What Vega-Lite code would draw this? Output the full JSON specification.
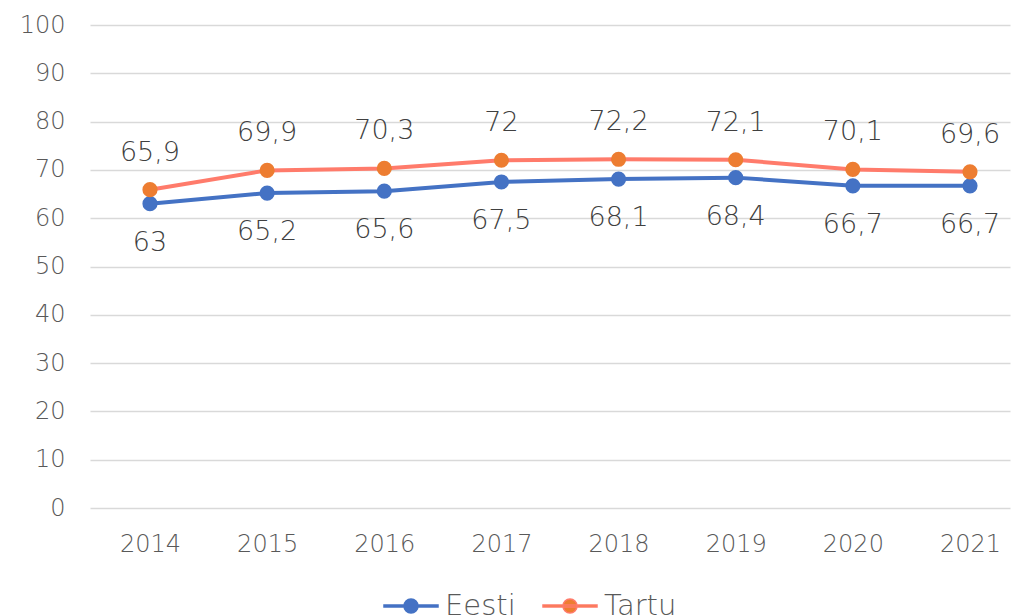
{
  "$schema": "https://vega.github.io/schema/vega-lite/v6.json",
  "width": 920,
  "height": 483,
  "autosize": {"type": "none"},
  "padding": {"left": 90, "top": 25, "right": 1, "bottom": 108},
  "background": "white",
  "config": {
    "view": {"stroke": null},
    "font": "DejaVu Sans",
    "locale": {"number": {"decimal": ",", "thousands": " ", "grouping": [3], "currency": ["", " €"]}}
  },
  "data": {
    "values": [
      {"year": "2014", "series": "Eesti", "value": 63},
      {"year": "2015", "series": "Eesti", "value": 65.2},
      {"year": "2016", "series": "Eesti", "value": 65.6},
      {"year": "2017", "series": "Eesti", "value": 67.5},
      {"year": "2018", "series": "Eesti", "value": 68.1},
      {"year": "2019", "series": "Eesti", "value": 68.4},
      {"year": "2020", "series": "Eesti", "value": 66.7},
      {"year": "2021", "series": "Eesti", "value": 66.7},
      {"year": "2014", "series": "Tartu", "value": 65.9},
      {"year": "2015", "series": "Tartu", "value": 69.9},
      {"year": "2016", "series": "Tartu", "value": 70.3},
      {"year": "2017", "series": "Tartu", "value": 72},
      {"year": "2018", "series": "Tartu", "value": 72.2},
      {"year": "2019", "series": "Tartu", "value": 72.1},
      {"year": "2020", "series": "Tartu", "value": 70.1},
      {"year": "2021", "series": "Tartu", "value": 69.6}
    ]
  },
  "encoding": {
    "x": {
      "field": "year", "type": "ordinal",
      "scale": {"type": "point", "padding": 0.4268, "align": 0.6},
      "axis": {"title": null, "domain": false, "ticks": false, "grid": false, "labelAngle": 0,
               "labelFontSize": 24, "labelColor": "#595959", "labelPadding": 24, "labelFont": "DejaVu Sans", "labelFontWeight": 200}
    },
    "y": {
      "field": "value", "type": "quantitative",
      "scale": {"domain": [0, 100], "nice": false},
      "axis": {"title": null, "domain": false, "ticks": false, "values": [0,10,20,30,40,50,60,70,80,90,100],
               "gridColor": "#D9D9D9", "gridWidth": 1.5, "labelFontSize": 24, "labelColor": "#595959",
               "labelPadding": 25, "labelFont": "DejaVu Sans", "labelFontWeight": 200}
    }
  },
  "layer": [
    {
      "mark": {"type": "line", "strokeWidth": 4},
      "encoding": {
        "color": {
          "field": "series", "type": "nominal",
          "scale": {"domain": ["Eesti", "Tartu"], "range": ["#4472C4", "#FF7B6B"]},
          "legend": {
            "title": null, "orient": "none", "direction": "horizontal",
            "legendX": 293, "legendY": 553, "padding": 0,
            "symbolType": "M-1,-0.04H1V0.04H-1Z M0.26,0A0.26,0.26 0 1,1 -0.26,0A0.26,0.26 0 1,1 0.26,0Z",
            "symbolSize": 2916, "symbolStrokeWidth": 1.5,
            "labelFontSize": 29, "labelColor": "#595959", "labelOffset": 6, "columnPadding": 24,
            "labelFont": "DejaVu Sans", "labelFontWeight": 200,
            "encode": {"symbols": {"update": {
              "fill": [{"test": "datum.value === 'Tartu'", "value": "#ED7D31"}, {"value": "#4472C4"}],
              "opacity": {"value": 1}
            }}}
          }
        }
      }
    },
    {
      "mark": {"type": "point", "filled": true, "size": 230, "opacity": 1},
      "encoding": {
        "fill": {
          "field": "series", "type": "nominal",
          "scale": {"domain": ["Eesti", "Tartu"], "range": ["#4472C4", "#ED7D31"]},
          "legend": null
        }
      }
    },
    {
      "transform": [{"filter": "datum.series === 'Tartu'"}],
      "mark": {"type": "text", "dy": -37, "fontSize": 27, "color": "#404040", "font": "DejaVu Sans", "fontWeight": 200},
      "encoding": {"text": {"field": "value", "type": "quantitative", "format": ".1~f"}}
    },
    {
      "transform": [{"filter": "datum.series === 'Eesti'"}],
      "mark": {"type": "text", "dy": 39, "fontSize": 27, "color": "#404040", "font": "DejaVu Sans", "fontWeight": 200},
      "encoding": {"text": {"field": "value", "type": "quantitative", "format": ".1~f"}}
    }
  ]
}
